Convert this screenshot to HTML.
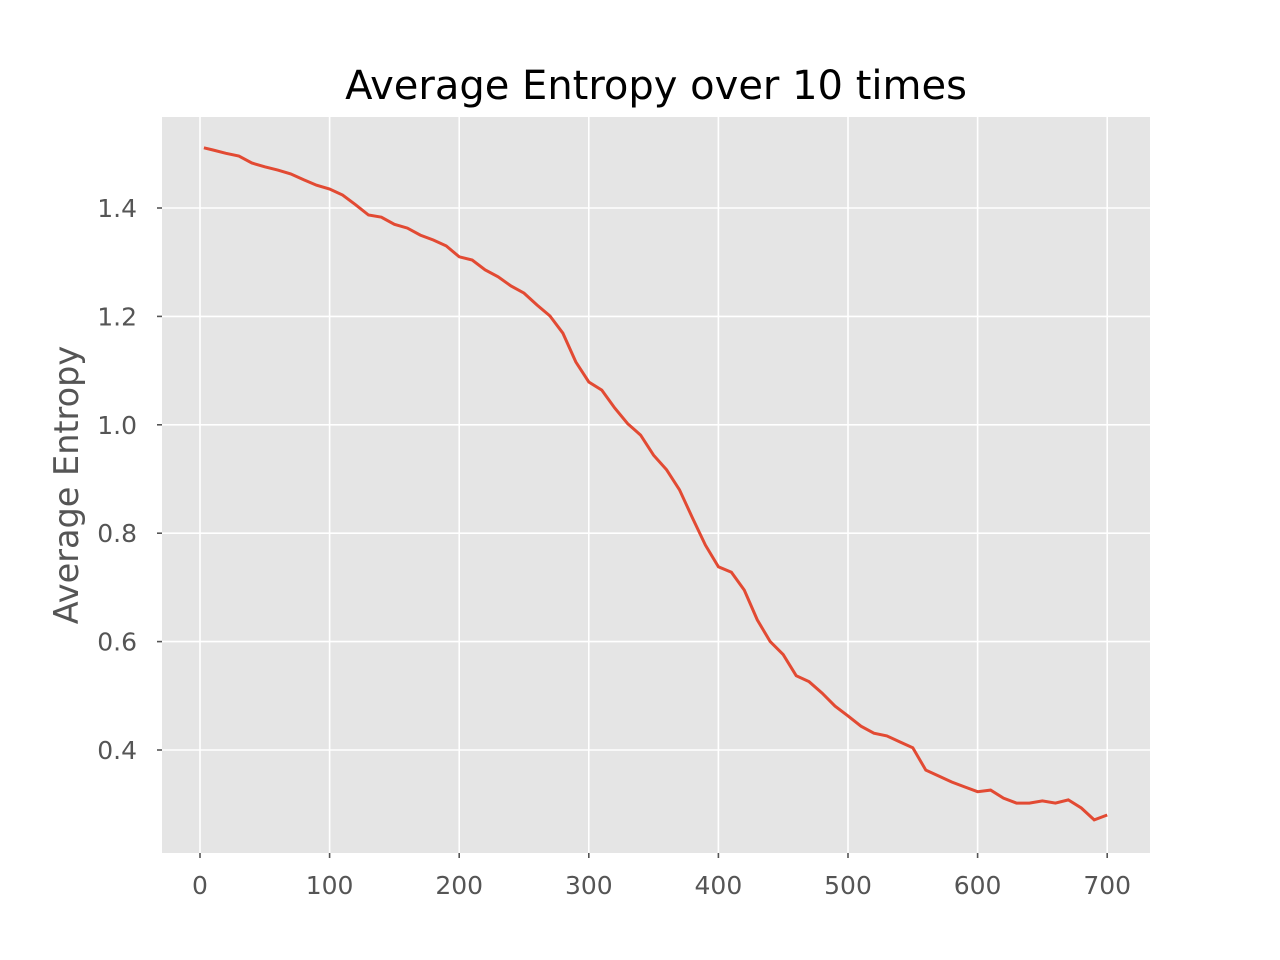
<!DOCTYPE html>
<html><head><meta charset="utf-8"><style>body{margin:0;background:#fff}svg{display:block}text{font-family:"DejaVu Sans","Liberation Sans",sans-serif}</style></head>
<body>
<svg id="chart" width="1280" height="960">
<rect x="162" y="117" width="988" height="736" fill="#e5e5e5"/>
<g id="grid"></g><g id="ticks"></g>
<text x="656" y="99" font-size="40" text-anchor="middle" fill="#000">Average Entropy over 10 times</text>
<text transform="translate(78,485) rotate(-90)" font-size="33.5" text-anchor="middle" fill="#555">Average Entropy</text>
<path id="line" fill="none" stroke="#e24a33" stroke-width="3"/>
</svg>
<script>
const xs=[3,10,20,30,40,50,60,70,80,90,100,110,120,130,140,150,160,170,180,190,200,210,220,230,240,250,260,270,280,290,300,310,320,330,340,350,360,370,380,390,400,410,420,430,440,450,460,470,480,490,500,510,520,530,540,550,560,570,580,590,600,610,620,630,640,650,660,670,680,690,700];
const ys=[1.511,1.507,1.501,1.496,1.483,1.476,1.470,1.463,1.452,1.442,1.435,1.424,1.406,1.387,1.383,1.370,1.363,1.350,1.341,1.330,1.310,1.304,1.286,1.273,1.256,1.243,1.221,1.201,1.169,1.116,1.079,1.064,1.031,1.002,0.981,0.944,0.917,0.880,0.828,0.778,0.738,0.728,0.695,0.640,0.600,0.576,0.537,0.526,0.505,0.481,0.463,0.444,0.431,0.426,0.415,0.404,0.363,0.352,0.341,0.332,0.323,0.326,0.311,0.302,0.302,0.306,0.302,0.308,0.293,0.271,0.280];
const xTicks=[0,100,200,300,400,500,600,700];
const yTicks=[0.4,0.6,0.8,1.0,1.2,1.4];
const X=v=>200+v*1.296, Y=v=>208+(1.4-v)*542;
const NS='http://www.w3.org/2000/svg';
const grid=document.getElementById('grid'),ticks=document.getElementById('ticks');
function mk(tag,a,p){const e=document.createElementNS(NS,tag);for(const k in a)e.setAttribute(k,a[k]);p.appendChild(e);return e;}
xTicks.forEach(t=>{const x=X(t);
const g=mk('line',{x1:x,x2:x,y1:117,y2:853,stroke:'#fff','stroke-width':1.6},grid);


mk('line',{x1:x,x2:x,y1:853,y2:858,stroke:'#555','stroke-width':1.6},ticks);
const l=mk('text',{x:x,y:894,'font-size':25,'text-anchor':'middle',fill:'#555'},ticks);l.textContent=t;

});
yTicks.forEach(t=>{const y=Y(t);
const g=mk('line',{x1:162,x2:1150,y1:y,y2:y,stroke:'#fff','stroke-width':1.6},grid);


mk('line',{x1:157,x2:162,y1:y,y2:y,stroke:'#555','stroke-width':1.6},ticks);
const l=mk('text',{x:137,y:y+9,'font-size':25,'text-anchor':'end',fill:'#555'},ticks);l.textContent=t.toFixed(1);

});
document.getElementById('line').setAttribute('d',xs.map((v,i)=>(i?'L':'M')+X(v).toFixed(1)+','+Y(ys[i]).toFixed(1)).join(''));
</script>
</body></html>
